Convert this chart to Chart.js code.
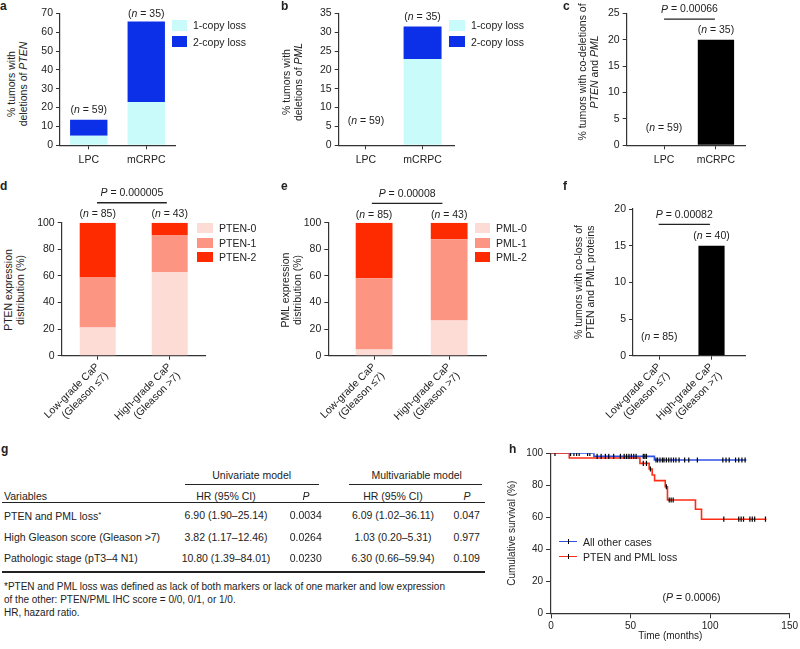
<!DOCTYPE html>
<html lang="en">
<head>
<meta charset="utf-8">
<title>PTEN and PML loss</title>
<script src="https://cdn.jsdelivr.net/npm/chart.js@4.4.1/dist/chart.umd.min.js"></script>
<style>
    body { margin: 0; background: #fff; font-family: "Liberation Sans", Arial, sans-serif; color: #222; }
    #pagina { position: relative; width: 800px; height: 649px; overflow: hidden; }
    #pagina canvas { position: absolute; }
    .letra { position: absolute; font-weight: bold; font-size: 12px; line-height: 12px; }
    .titulo-y { position: absolute; font-size: 10.5px; line-height: 12px; text-align: center; white-space: nowrap; transform: translate(-50%, -50%) rotate(-90deg); }
    .leg { position: absolute; display: flex; align-items: center; font-size: 10.5px; white-space: nowrap; transform: translateY(-50%); }
    .leg span { display: inline-block; margin-right: 6px; }
    .txt { position: absolute; white-space: nowrap; font-size: 10.5px; line-height: 12px; }
    .linha { position: absolute; background: #222; }
</style>
</head>
<body>
<div id="pagina"></div>
<script>
// ============================================
// DATA
// ============================================

// a-c : copy-number loss (% of tumors)
const copyCats = ['LPC', 'mCRPC'];
const ptenOneCopy = [5.1, 22.9];
const ptenTwoCopy = [8.5, 42.8];
const pmlOneCopy = [0, 22.9];
const pmlTwoCopy = [0, 8.6];
const coDeletion = [0, 20];
const copyN = [59, 35];

// d-f : IHC expression (% of tumors)
const gleasonCats = [['Low-grade CaP', '(Gleason ≤7)'], ['High-grade CaP', '(Gleason >7)']];
const pten0 = [21.2, 62.8];
const pten1 = [37.6, 27.9];
const pten2 = [41.2, 9.3];
const pml0 = [4.7, 26.4];
const pml1 = [53.6, 61.2];
const pml2 = [41.7, 12.4];
const coLoss = [0, 15];
const gleasonN = [85, 43];
const coLossN = [85, 40];

// g : Cox model table
const tableVars = ['PTEN and PML loss<span style="font-size:8px;vertical-align:3px">*</span>', 'High Gleason score (Gleason >7)', 'Pathologic stage (pT3–4 N1)'];
const uniHR = ['6.90 (1.90–25.14)', '3.82 (1.17–12.46)', '10.80 (1.39–84.01)'];
const uniP = ['0.0034', '0.0264', '0.0230'];
const multiHR = ['6.09 (1.02–36.11)', '1.03 (0.20–5.31)', '6.30 (0.66–59.94)'];
const multiP = ['0.047', '0.977', '0.109'];

// h : Kaplan-Meier (months, % survival)
const kmOtherMonths = [0, 27, 65, 122.8];
const kmOtherSurvival = [100, 98.1, 95.8, 95.8];
const kmLossMonths = [0, 11.5, 55.9, 61.7, 63.6, 65.1, 71.8, 73.2, 90.8, 94.6, 135.4];
const kmLossSurvival = [100, 97.1, 93.7, 90.2, 86.4, 82.9, 79.1, 70.8, 65.0, 58.8, 58.8];
const censorOtherMonths = [12.3, 14.4, 16.1, 17.7, 23, 24.4, 29, 31.5, 34.2, 36.3, 39.4, 43.6, 46, 47.5, 49, 50.5, 52, 53.5, 58, 59, 60,
    66, 67, 68.5, 70, 71, 72.5, 74, 75.5, 77, 78.5, 80.5, 84, 86.6, 92, 108, 110, 112, 116, 118, 120, 122];
const censorLossMonths = [2.5, 58, 60, 62.5, 72.5, 74.3, 75.5, 76.8, 108.6, 118, 119.5, 121, 125, 126.5, 128, 134.8];

// ============================================
// STYLE
// ============================================
const TXT = '#222';
const AXIS = '#333';
const FONT = { family: '"Liberation Sans", Arial, sans-serif', size: 10.5 };
const CYAN = '#c9fbfb';
const BLUE = '#0c2fe8';
const PINK0 = '#fddcd6';
const PINK1 = '#fc9582';
const PINK2 = '#ff2b00';
const KM_BLUE = '#2f52e6';
const KM_RED = '#ff2c14';

const pagina = document.getElementById('pagina');

function addCanvas(b) {
    const c = document.createElement('canvas');
    c.width = b.w;
    c.height = b.h;
    c.style.left = b.x + 'px';
    c.style.top = b.y + 'px';
    pagina.appendChild(c);
    return c;
}

function put(html, x, y, cls, align) {
    const d = document.createElement('div');
    d.className = cls || 'txt';
    d.innerHTML = html;
    d.style.left = x + 'px';
    d.style.top = y + 'px';
    if (align === 'center') d.style.transform = 'translate(-50%, -50%)';
    else if (align === 'left') d.style.transform = 'translateY(-50%)';
    pagina.appendChild(d);
    return d;
}

function rule(x1, x2, y, h, color) {
    const d = document.createElement('div');
    d.className = 'linha';
    d.style.left = x1 + 'px';
    d.style.width = (x2 - x1) + 'px';
    d.style.top = y + 'px';
    d.style.height = h + 'px';
    if (color) d.style.background = color;
    pagina.appendChild(d);
    return d;
}

function legend(x, y, gap, sw, sh, datasets) {
    datasets.forEach((ds, i) => {
        put(`<span style="background:${ds.backgroundColor};width:${sw}px;height:${sh}px"></span>${ds.label}`,
            x, y + i * gap, 'leg');
    });
}

function pad(box, area, yw, xh) {
    return {
        left: area.L - box.x - yw,
        top: area.T - box.y,
        right: box.x + box.w - area.R,
        bottom: box.y + box.h - area.B - xh
    };
}

// text with italic parts, centred on cx
function drawParts(ctx, parts, cx, cy) {
    const fonts = parts.map(p => (p[1] ? 'italic ' : '') + FONT.size + 'px ' + FONT.family);
    let w = 0;
    parts.forEach((p, i) => { ctx.font = fonts[i]; w += ctx.measureText(p[0]).width; });
    let x = cx - w / 2;
    ctx.textAlign = 'left';
    parts.forEach((p, i) => {
        ctx.font = fonts[i];
        ctx.fillText(p[0], x, cy);
        x += ctx.measureText(p[0]).width;
    });
}

// n labels over the bars and the P bracket
const notesPlugin = {
    id: 'notes',
    afterDraw(chart, args, o) {
        if (!o || !o.n) return;
        const { ctx, scales: { x, y } } = chart;
        ctx.save();
        ctx.fillStyle = TXT;
        ctx.strokeStyle = TXT;
        ctx.textBaseline = 'middle';
        o.n.forEach((n, i) => {
            const total = chart.data.datasets.reduce((s, d) => s + d.data[i].y, 0);
            drawParts(ctx, [['(', 0], ['n', 1], [' = ' + n + ')', 0]], x.getPixelForValue(i), y.getPixelForValue(total) - o.lift[i]);
        });
        if (o.p) {
            const py = y.getPixelForValue(o.p.at);
            const x1 = x.getPixelForValue(o.p.from), x2 = x.getPixelForValue(o.p.to);
            ctx.lineWidth = 1.3;
            ctx.beginPath();
            ctx.moveTo(x1, py);
            ctx.lineTo(x2, py);
            ctx.stroke();
            drawParts(ctx, [['P', 1], [' = ' + o.p.text, 0]], (x1 + x2) / 2, py - 9.5);
        }
        ctx.restore();
    }
};

function barPanel(p) {
    const yw = 28, xh = p.rotate ? 72 : 28;
    const cv = addCanvas(p.box);
    return new Chart(cv, {
        type: 'bar',
        data: {
            datasets: p.series.map(s => ({
                label: s.label,
                data: s.values.map((v, i) => ({ x: i, y: v })),
                backgroundColor: s.color,
                barPercentage: p.barPct,
                categoryPercentage: 1
            }))
        },
        options: {
            responsive: false,
            animation: false,
            layout: { autoPadding: false, padding: pad(p.box, p.area, yw, xh) },
            plugins: { legend: { display: false }, tooltip: { enabled: false }, notes: p.notes },
            scales: {
                x: {
                    type: 'linear', stacked: true, offset: false, min: p.xMin, max: p.xMax,
                    afterBuildTicks: s => { s.ticks = p.cats.map((c, i) => ({ value: i })); },
                    afterFit: s => { s.height = xh; },
                    grid: { drawOnChartArea: false, offset: false, tickLength: 4, color: AXIS },
                    border: { color: AXIS, width: 1.2 },
                    ticks: {
                        callback: v => p.cats[v], color: TXT, font: FONT, autoSkip: false,
                        padding: p.rotate ? 1 : 5,
                        minRotation: p.rotate ? 45 : 0, maxRotation: p.rotate ? 45 : 0
                    }
                },
                y: {
                    stacked: true, min: 0, max: p.yMax,
                    afterFit: s => { s.width = yw; },
                    grid: { drawOnChartArea: false, tickLength: 4, color: AXIS },
                    border: { color: AXIS, width: 1.2 },
                    ticks: { stepSize: p.yStep, color: TXT, font: FONT, padding: 3 }
                }
            }
        },
        plugins: [notesPlugin]
    });
}

// ============================================
// a-f
// ============================================
const chartA = barPanel({
    box: { x: 30, y: 0, w: 150, h: 175 }, area: { L: 60, T: 13.3, R: 175, B: 145.3 },
    cats: copyCats, xMin: -0.5, xMax: 1.5, yMax: 70, yStep: 10, barPct: 0.65,
    series: [{ label: '1-copy loss', values: ptenOneCopy, color: CYAN }, { label: '2-copy loss', values: ptenTwoCopy, color: BLUE }],
    notes: { n: copyN, lift: [10, 7.5] }
});
const chartB = barPanel({
    box: { x: 305, y: 0, w: 155, h: 175 }, area: { L: 338.7, T: 13.3, R: 454.3, B: 145.3 },
    cats: copyCats, xMin: -0.48, xMax: 1.56, yMax: 35, yStep: 5, barPct: 0.67,
    series: [{ label: '1-copy loss', values: pmlOneCopy, color: CYAN }, { label: '2-copy loss', values: pmlTwoCopy, color: BLUE }],
    notes: { n: copyN, lift: [24.5, 9.5] }
});
const chartC = barPanel({
    box: { x: 598, y: 0, w: 152, h: 175 }, area: { L: 626.7, T: 13.3, R: 745, B: 145.3 },
    cats: copyCats, xMin: -0.72, xMax: 1.56, yMax: 25, yStep: 5, barPct: 0.7,
    series: [{ label: 'Co-deletion', values: coDeletion, color: '#000' }],
    notes: { n: copyN, lift: [17, 9.5], p: { text: '0.00066', at: 23.9, from: 0, to: 0.98 } }
});
const chartD = barPanel({
    box: { x: 30, y: 185, w: 180, h: 245 }, area: { L: 61.7, T: 222.7, R: 205.7, B: 355.7 },
    cats: gleasonCats, xMin: -0.5, xMax: 1.5, yMax: 100, yStep: 20, barPct: 0.5, rotate: true,
    series: [{ label: 'PTEN-0', values: pten0, color: PINK0 }, { label: 'PTEN-1', values: pten1, color: PINK1 }, { label: 'PTEN-2', values: pten2, color: PINK2 }],
    notes: { n: gleasonN, lift: [8.4, 8.4], p: { text: '0.000005', at: 115, from: -0.01, to: 0.96 } }
});
const chartE = barPanel({
    box: { x: 300, y: 185, w: 190, h: 245 }, area: { L: 328.3, T: 222.7, R: 486.7, B: 355.7 },
    cats: gleasonCats, xMin: -0.61, xMax: 1.5, yMax: 100, yStep: 20, barPct: 0.49, rotate: true,
    series: [{ label: 'PML-0', values: pml0, color: PINK0 }, { label: 'PML-1', values: pml1, color: PINK1 }, { label: 'PML-2', values: pml2, color: PINK2 }],
    notes: { n: gleasonN, lift: [7.8, 7.8], p: { text: '0.00008', at: 114.6, from: -0.03, to: 0.91 } }
});
const chartF = barPanel({
    box: { x: 600, y: 185, w: 150, h: 245 }, area: { L: 628.3, T: 209, R: 745, B: 355.7 },
    cats: gleasonCats, xMin: -0.5, xMax: 1.64, yMax: 20, yStep: 5, barPct: 0.5, rotate: true,
    series: [{ label: 'Co-loss', values: coLoss, color: '#000' }],
    notes: { n: coLossN, lift: [19, 10], p: { text: '0.00082', at: 17.9, from: -0.01, to: 0.97 } }
});

legend(172, 25, 16.5, 15, 11, chartA.data.datasets);
legend(449, 25.3, 16.4, 16, 11, chartB.data.datasets);
legend(197, 228.3, 14.2, 16, 10, chartD.data.datasets);
legend(475, 228.3, 14.5, 15, 10, chartE.data.datasets);

put('% tumors with<br>deletions of <i>PTEN</i>', 17, 84, 'titulo-y');
put('% tumors with<br>deletions of <i>PML</i>', 292, 82, 'titulo-y');
put('% tumors with co-deletions of<br><i>PTEN</i> and <i>PML</i>', 588, 72, 'titulo-y');
put('PTEN expression<br>distribution (%)', 14, 290, 'titulo-y');
put('PML expression<br>distribution (%)', 291, 290, 'titulo-y');
put('% tumors with co-loss of<br>PTEN and PML proteins', 584, 282, 'titulo-y');

// ============================================
// g - table
// ============================================
put('Univariate model', 251.7, 475, 'txt', 'center');
put('Multivariable model', 416.7, 475, 'txt', 'center');
rule(185, 319, 483.5, 1.5);
rule(349, 482, 483.5, 1.5);
put('Variables', 4, 495.7, 'txt', 'left');
put('HR (95% CI)', 226, 495.7, 'txt', 'center');
put('<i>P</i>', 306, 495.7, 'txt', 'center');
put('HR (95% CI)', 393, 495.7, 'txt', 'center');
put('<i>P</i>', 467, 495.7, 'txt', 'center');
rule(2, 485, 502, 1.2);
tableVars.forEach((v, i) => {
    const y = 515 + i * 21.7;
    put(v, 4, y, 'txt', 'left');
    put(uniHR[i], 226, y, 'txt', 'center');
    put(uniP[i], 305.7, y, 'txt', 'center');
    put(multiHR[i], 393, y, 'txt', 'center');
    put(multiP[i], 466.7, y, 'txt', 'center');
});
rule(2, 485, 570.7, 2);
const nota = put('*PTEN and PML loss was defined as lack of both markers or lack of one marker and low expression<br>of the other: PTEN/PML IHC score = 0/0, 0/1, or 1/0.<br>HR, hazard ratio.', 4, 579.5, 'txt');
nota.style.fontSize = '10px';
nota.style.lineHeight = '13.2px';

// ============================================
// h - Kaplan-Meier
// ============================================
function survivalAt(months, surv, t) {
    let v = surv[0];
    months.forEach((m, i) => { if (m <= t) v = surv[i]; });
    return v;
}
const KM_FONT = { family: FONT.family, size: 10 };
const kmBox = { x: 500, y: 440, w: 300, h: 209 };
const kmArea = { L: 551, T: 453.3, R: 790, B: 613.3 };
const kmYW = 49, kmXH = 31;
const censorStyle = { showLine: false, pointStyle: 'line', rotation: 90, pointRadius: 2.6, pointBorderColor: '#000', pointBorderWidth: 1.2, order: 0 };

const chartH = new Chart(addCanvas(kmBox), {
    type: 'line',
    data: {
        datasets: [
            { label: 'All other cases', data: kmOtherMonths.map((m, i) => ({ x: m, y: kmOtherSurvival[i] })),
              borderColor: KM_BLUE, backgroundColor: KM_BLUE, borderWidth: 1.6, stepped: 'before', pointRadius: 0, order: 2 },
            { label: 'PTEN and PML loss', data: kmLossMonths.map((m, i) => ({ x: m, y: kmLossSurvival[i] })),
              borderColor: KM_RED, backgroundColor: KM_RED, borderWidth: 1.6, stepped: 'before', pointRadius: 0, order: 1 },
            Object.assign({ label: 'censored', data: censorOtherMonths.map(m => ({ x: m, y: survivalAt(kmOtherMonths, kmOtherSurvival, m) })) }, censorStyle),
            Object.assign({ label: 'censored', data: censorLossMonths.map(m => ({ x: m, y: survivalAt(kmLossMonths, kmLossSurvival, m) })) }, censorStyle)
        ]
    },
    options: {
        responsive: false,
        animation: false,
        layout: { autoPadding: false, padding: pad(kmBox, kmArea, kmYW, kmXH) },
        plugins: { legend: { display: false }, tooltip: { enabled: false } },
        scales: {
            x: {
                type: 'linear', min: 0, max: 150,
                afterFit: s => { s.height = kmXH; },
                grid: { drawOnChartArea: false, tickLength: 5, color: AXIS },
                border: { color: AXIS, width: 1.2 },
                ticks: { stepSize: 50, color: TXT, font: KM_FONT, padding: 2 },
                title: { display: true, text: 'Time (months)', color: TXT, font: KM_FONT, padding: { top: 0, bottom: 2 } }
            },
            y: {
                min: 0, max: 100,
                afterFit: s => { s.width = kmYW; },
                grid: { drawOnChartArea: false, tickLength: 5, color: AXIS },
                border: { color: AXIS, width: 1.2 },
                ticks: { stepSize: 20, color: TXT, font: KM_FONT, padding: 3 },
                title: { display: true, text: 'Cumulative survival (%)', color: TXT, font: KM_FONT, padding: { top: 4, bottom: 0 } }
            }
        }
    }
});

// legend h: line with a censor tick
chartH.data.datasets.slice(0, 2).forEach((ds, i) => {
    const y = 541.7 + i * 15;
    rule(559, 577, y - 0.8, 1.6, ds.borderColor);
    rule(567.5, 568.7, y - 2.6, 5.2, '#000');
    put(ds.label, 583, y, 'txt', 'left');
});
put('(<i>P</i> = 0.0006)', 691.5, 596.7, 'txt', 'center');

// ============================================
// panel letters
// ============================================
[['a', 0, 0], ['b', 281, 0], ['c', 563, 0], ['d', 0, 180], ['e', 281, 180], ['f', 563, 180], ['g', 1, 443], ['h', 509, 443]]
    .forEach(([t, x, y]) => put(t, x, y, 'letra'));
</script>
</body>
</html>
